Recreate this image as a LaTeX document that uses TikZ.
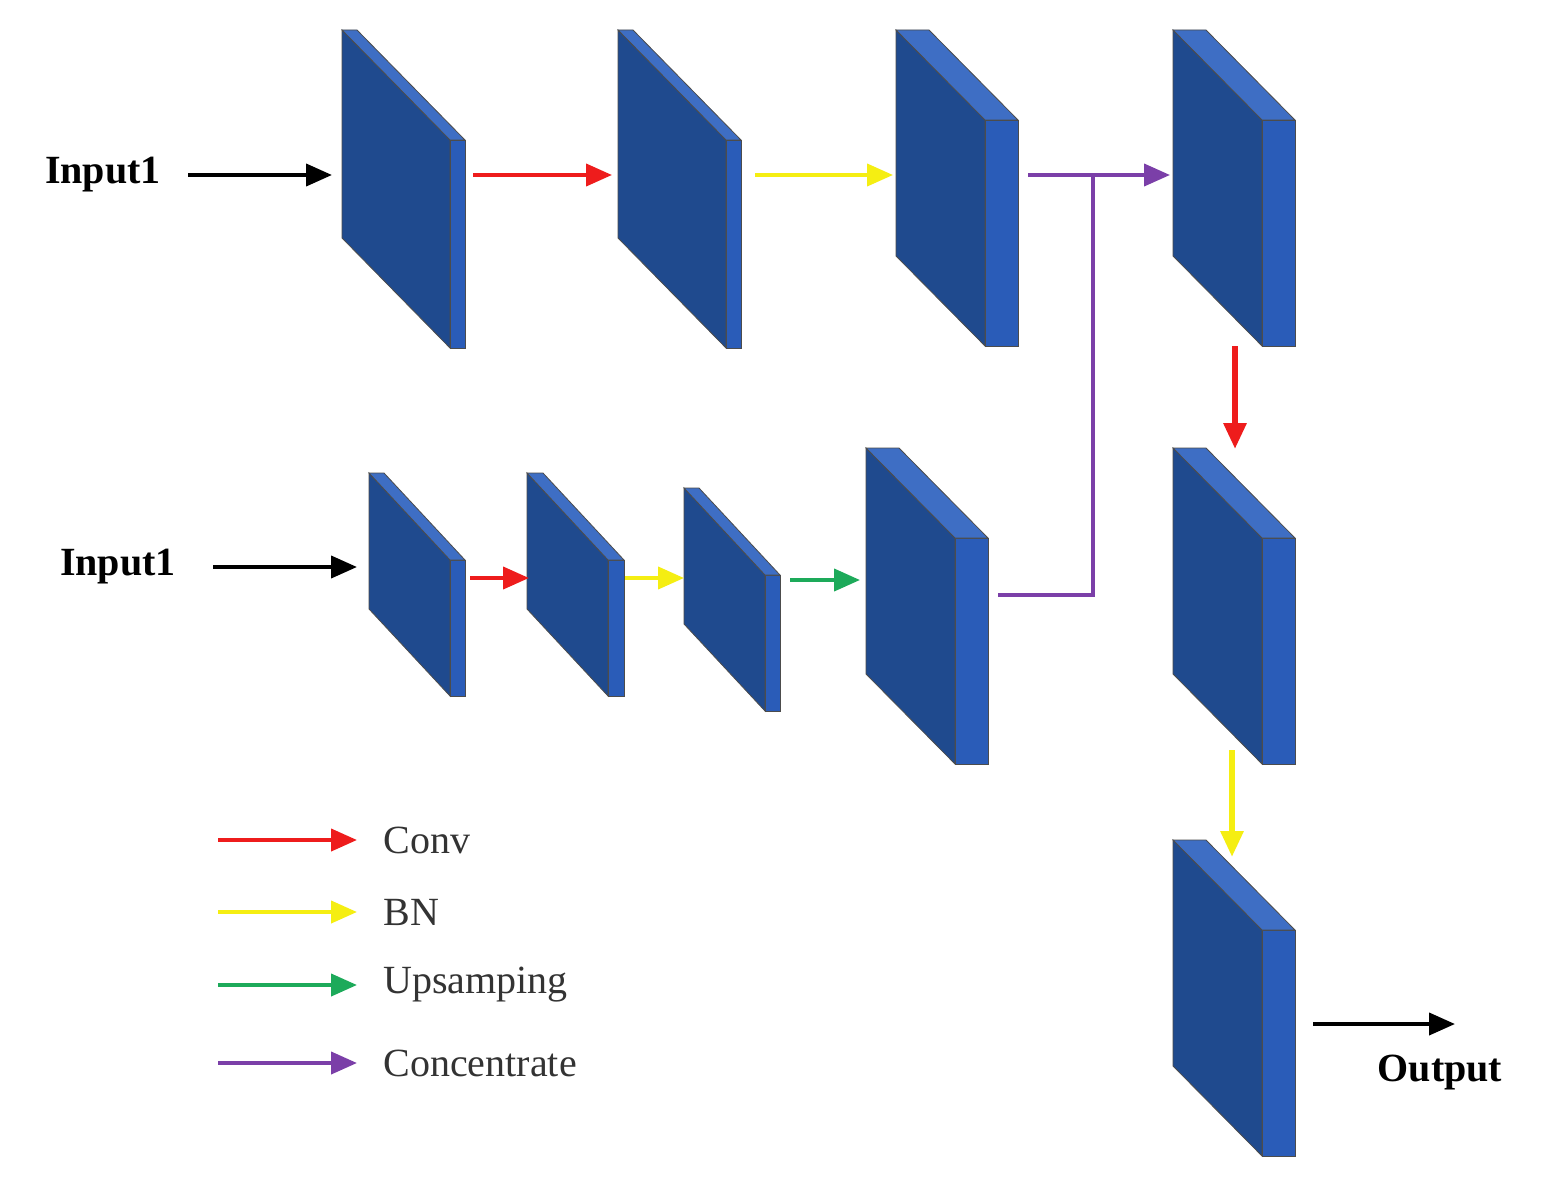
\documentclass[tikz,border=0pt]{standalone}
\usepackage{fontspec}
\setmainfont{Liberation Serif}
\usetikzlibrary{arrows.meta}
\definecolor{fr}{HTML}{1F4A8E}
\definecolor{sd}{HTML}{2A5CB8}
\definecolor{tp}{HTML}{3E6EC4}
\definecolor{cred}{HTML}{EE1C1C}
\definecolor{cyel}{HTML}{F5EE12}
\definecolor{cgrn}{HTML}{1DAA5A}
\definecolor{cpur}{HTML}{7B3FA8}
% #1 name, #2 x, #3 y, #4 dx, #5 dy, #6 h, #7 t
\newcommand{\slab}[7]{%
 \fill[fr,draw=black!70,line width=0.8] (#2,#3) -- ({#2+#4},{#3+#5}) -- ({#2+#4},{#3+#6+#5}) -- (#2,{#3+#6}) -- cycle;
 \fill[sd,draw=black!70,line width=0.8] ({#2+#4},{#3+#5}) -- ({#2+#4+#7},{#3+#5}) -- ({#2+#4+#7},{#3+#6+#5}) -- ({#2+#4},{#3+#6+#5}) -- cycle;
 \fill[tp,draw=black!70,line width=0.8] (#2,#3) -- ({#2+#7},#3) -- ({#2+#4+#7},{#3+#5}) -- ({#2+#4},{#3+#5}) -- cycle;
 \coordinate (#1) at (#2,#3);}
\tikzset{x=1pt,y=-1pt,
 arr/.style={line width=4,-{Triangle[length=26,width=22]}},
 lbl/.style={font=\fontsize{40}{44}\selectfont\bfseries,anchor=center},
 leg/.style={font=\fontsize{40}{44}\selectfont,anchor=west,text=black!80}}
\begin{document}
\begin{tikzpicture}
\fill[white] (0,0) rectangle (1544,1185);
\useasboundingbox (0,0) rectangle (1544,1185);
\slab{b1}{342}{30}{108}{110}{208}{15}
\slab{b2}{618}{30}{108}{110}{208}{15}
\slab{b3}{896}{30}{89}{90}{226}{33}
\slab{b4}{1173}{30}{89}{90}{226}{33}
\slab{b5}{1173}{448}{89}{90}{226}{33}
\slab{b6}{1173}{840}{89}{90}{226}{33}
\slab{b7}{866}{448}{89}{90}{226}{33}
\slab{s1}{369}{473}{81}{87}{136}{15}
\slab{s2}{527}{473}{81}{87}{136}{16}
\slab{s3}{684}{488}{81}{87}{136}{15}

\node[lbl] (in1) at (103,175) {Input1};
\node[lbl] (in2) at (118,567) {Input1};
\node[lbl] (out) at (1440,1073) {Output};
\coordinate (a1s) at (188,175); \coordinate (a1e) at (332,175);
\draw[arr,black] (a1s) -- (a1e);
\coordinate (r1s) at (473,175); \coordinate (r1e) at (612,175);
\draw[arr,cred] (r1s) -- (r1e);
\coordinate (y1s) at (755,175); \coordinate (y1e) at (893,175);
\draw[arr,cyel] (y1s) -- (y1e);
\coordinate (p1s) at (1028,175); \coordinate (p1e) at (1170,175);
\coordinate (pj) at (1093,175); \coordinate (pc) at (1093,595); \coordinate (p7) at (998,595);
\draw[arr,cpur] (p1s) -- (p1e);
\draw[cpur,line width=4] (pj) -- (pc) -- (p7);
\coordinate (a2s) at (213,567); \coordinate (a2e) at (357,567);
\draw[arr,black] (a2s) -- (a2e);
\coordinate (r2s) at (470,578); \coordinate (r2e) at (529,578);
\draw[arr,cred] (r2s) -- (r2e);
\coordinate (y2s) at (625,578); \coordinate (y2e) at (684,578);
\draw[arr,cyel] (y2s) -- (y2e);
\coordinate (g2s) at (790,580); \coordinate (g2e) at (860,580);
\draw[arr,cgrn] (g2s) -- (g2e);
\coordinate (vr1) at (1235,346); \coordinate (vr2) at (1235,449);
\draw[arr,cred,line width=6] (vr1) -- (vr2);
\coordinate (vy1) at (1232,750); \coordinate (vy2) at (1232,857);
\draw[arr,cyel,line width=6] (vy1) -- (vy2);
\coordinate (o1) at (1313,1024); \coordinate (o2) at (1455,1024);
\draw[arr,black] (o1) -- (o2);

\foreach \c/\t/\y [count=\i] in {cred/Conv/840, cyel/BN/912, cgrn/Upsamping/985, cpur/Concentrate/1063}{
 \coordinate (l\i s) at (218,\y); \coordinate (l\i e) at (357,\y);
 \draw[arr,\c] (l\i s) -- (l\i e);
 \node[leg] (lt\i) at (380,\y) {\t};
}
\end{tikzpicture}
\end{document}
